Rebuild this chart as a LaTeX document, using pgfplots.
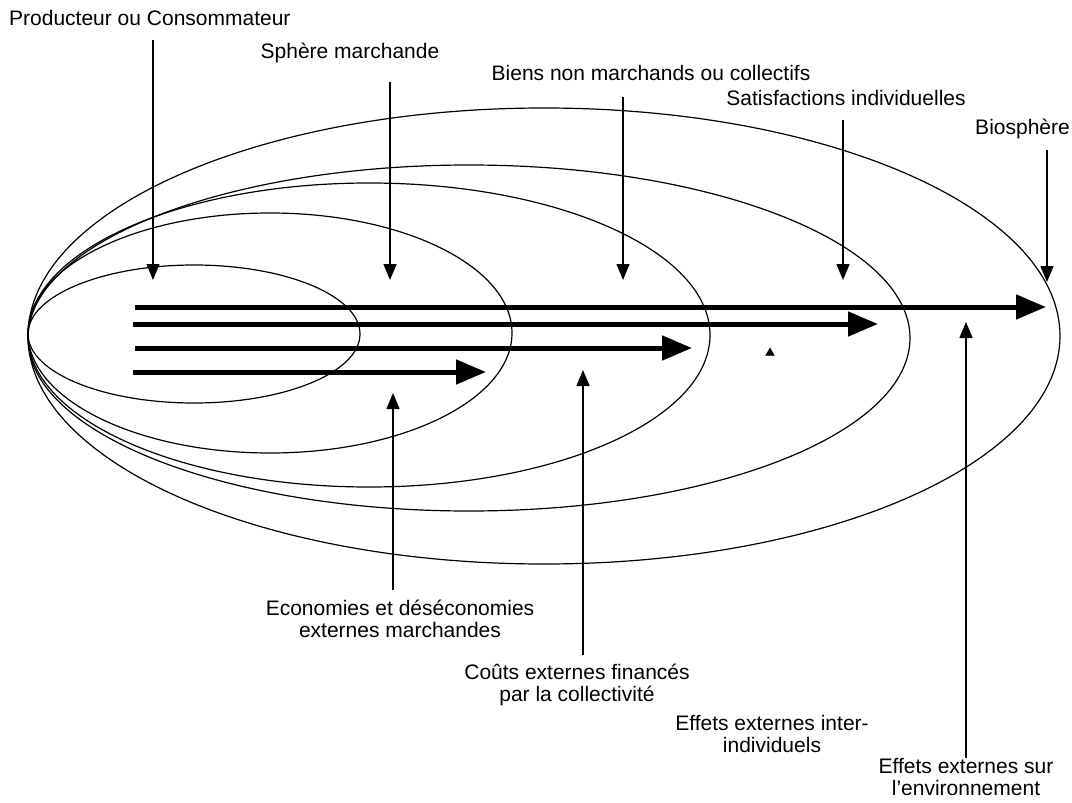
\documentclass[border=0pt]{standalone}
\usepackage{fontspec}
\setmainfont{Liberation Sans}
\usepackage{pgfplots}
\pgfplotsset{compat=1.18}
\usetikzlibrary{arrows.meta}

\begin{document}
\begin{tikzpicture}[
    lbl/.style={font=\fontsize{21}{22}\selectfont, align=center, inner sep=1pt},
    flux/.style={line width=5pt, -{Triangle[length=30pt,width=24pt]}},
    fleche/.style={line width=1.5pt, -{Triangle[length=16pt,width=13pt]}},
]
\begin{axis}[
    width=1072pt, height=803pt, scale only axis,
    xmin=0, xmax=1072, ymin=0, ymax=803, y dir=reverse,
    hide axis, clip=false,
]
% spheres emboitees
\draw[line width=1.2pt] (axis cs:194,334) ellipse [x radius=166, y radius=69];
\draw[line width=1.2pt] (axis cs:270,333) ellipse [x radius=242, y radius=120];
\draw[line width=1.2pt] (axis cs:369,335) ellipse [x radius=341, y radius=152];
\draw[line width=1.2pt] (axis cs:469,338) ellipse [x radius=441, y radius=173];
\draw[line width=1.2pt] (axis cs:544,336) ellipse [x radius=516, y radius=228];

% flux
\addplot[flux] coordinates {(135,307) (1046,307)};
\addplot[flux] coordinates {(133,324) (878,324)};
\addplot[flux] coordinates {(135,348) (692,348)};
\addplot[flux] coordinates {(133,372) (486,372)};

% fleches du haut
\addplot[fleche] coordinates {(153,40) (153,280)};
\addplot[fleche] coordinates {(390,82) (390,280)};
\addplot[fleche] coordinates {(623,97) (623,280)};
\addplot[fleche] coordinates {(843,120) (843,280)};
\addplot[fleche] coordinates {(1047,150) (1047,282)};

% fleches du bas
\addplot[fleche] coordinates {(393,590) (393,393)};
\addplot[fleche] coordinates {(583,655) (583,370)};
\addplot[fleche] coordinates {(966,758) (966,322)};
\addplot[only marks, mark=triangle*, mark size=5pt] coordinates {(770,353)};

% textes
\node[lbl, anchor=west] at (axis cs:8,18) {Producteur ou Consommateur};
\node[lbl] at (axis cs:350,53) {Sphère marchande};
\node[lbl] at (axis cs:651,73) {Biens non marchands ou collectifs};
\node[lbl] at (axis cs:846,98) {Satisfactions individuelles};
\node[lbl, anchor=east] at (axis cs:1071,129) {Biosphère};
\node[lbl] at (axis cs:400,619) {Economies et déséconomies\\externes marchandes};
\node[lbl] at (axis cs:577,685) {Coûts externes financés\\par la collectivité};
\node[lbl] at (axis cs:772,734) {Effets externes inter-\\individuels};
\node[lbl] at (axis cs:966,777) {Effets externes sur\\l'environnement};
\end{axis}
\pgfresetboundingbox
\path (current axis.south west) rectangle (current axis.north east);
\end{tikzpicture}
\end{document}
